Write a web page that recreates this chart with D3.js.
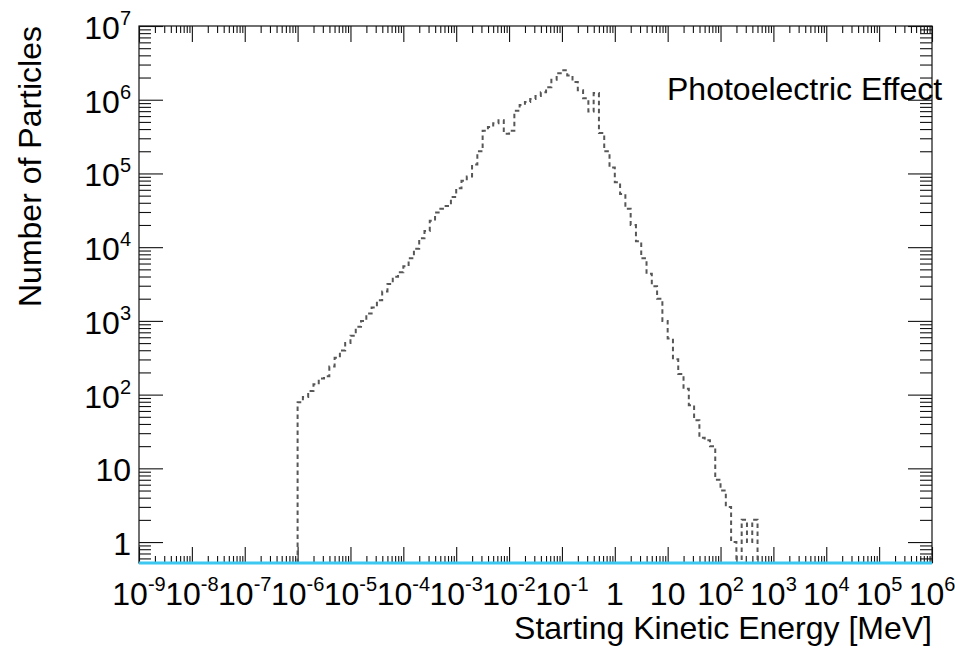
<!DOCTYPE html>
<html>
<head>
<meta charset="utf-8">
<script src="https://cdn.jsdelivr.net/npm/d3@7"></script>
<style>
  body { margin: 0; background: #fff; }
  text { font-family: "Liberation Sans", Arial, Helvetica, sans-serif; fill: #000; }
</style>
</head>
<body>
<svg id="chart" width="955" height="657"></svg>
<script>

// histogram: log10 of the lower edge of the first bin, bin width in decades
var firstEdgeExp = -6.0;
var binWidthExp = 0.1;

// counts per bin (bins from 1e-6 MeV upward)
var counts = [
    79, 93, 112, 138, 166, 178, 240, 316, 398, 501,
    631, 832, 1000, 1259, 1514, 1905, 2512, 3162, 3981, 4571,
    5495, 7079, 9550, 13180, 16600, 22900, 29510, 33110, 36310, 47860,
    63100, 79430, 91200, 131800, 199500, 380200, 426600, 478600, 524800, 346700,
    380200, 707900, 851100, 933300, 1023000, 1122000, 1259000, 1479000, 1862000, 2291000,
    2512000, 2138000, 1738000, 1349000, 1047000, 691800, 1230000, 354800, 199500, 120200,
    75860, 52480, 33110, 19950, 12020, 7079, 4365, 2951, 1995, 1000,
    575, 302, 191, 120, 72, 45, 26, 24, 20, 7,
    5, 3, 1, 0, 2, 1, 2
];

var xTickExps = [-9, -8, -7, -6, -5, -4, -3, -2, -1, 0, 1, 2, 3, 4, 5, 6];
var yTickExps = [0, 1, 2, 3, 4, 5, 6, 7];

var xTitle = "Starting Kinetic Energy [MeV]";
var yTitle = "Number of Particles";
var plotLabel = "Photoelectric Effect";

var plotLeft = 139, plotRight = 932, plotTop = 26, plotBottom = 563;
var yMin = 0.52;
var fontSize = 32;

var svg = d3.select("#chart");

var x = d3.scaleLog().domain([1e-9, 1e6]).range([plotLeft, plotRight]);
var y = d3.scaleLog().domain([yMin, 1e7]).range([plotBottom, plotTop]);

// minor ticks 2..9 inside each decade
function minorTicks(scale) {
    var d = scale.domain(), out = [];
    var lo = Math.floor(Math.log10(d[0])), hi = Math.ceil(Math.log10(d[1]));
    for (var e = lo; e < hi; e++) {
        for (var m = 2; m < 10; m++) {
            var v = m * Math.pow(10, e);
            if (v >= d[0] && v <= d[1]) out.push(v);
        }
    }
    return out;
}

var xMajor = xTickExps.map(function(e) { return Math.pow(10, e); });
var yMajor = yTickExps.map(function(e) { return Math.pow(10, e); });

function tickAxis(axis, tx, ty) {
    svg.append("g")
        .attr("class", "ticks")
        .attr("transform", "translate(" + tx + "," + ty + ")")
        .call(axis)
        .call(function(g) { g.select(".domain").remove(); })
        .selectAll("line")
        .attr("stroke", "#111")
        .attr("stroke-width", 1.1);
}

// ticks point inward on all four sides
tickAxis(d3.axisBottom(x).tickValues(xMajor).tickSize(-16).tickFormat(""), 0, plotBottom);
tickAxis(d3.axisBottom(x).tickValues(minorTicks(x)).tickSize(-7).tickFormat(""), 0, plotBottom);
tickAxis(d3.axisTop(x).tickValues(xMajor).tickSize(-16).tickFormat(""), 0, plotTop);
tickAxis(d3.axisTop(x).tickValues(minorTicks(x)).tickSize(-7).tickFormat(""), 0, plotTop);
tickAxis(d3.axisLeft(y).tickValues(yMajor).tickSize(-24).tickFormat(""), plotLeft, 0);
tickAxis(d3.axisLeft(y).tickValues(minorTicks(y)).tickSize(-12).tickFormat(""), plotLeft, 0);
tickAxis(d3.axisRight(y).tickValues(yMajor).tickSize(-24).tickFormat(""), plotRight, 0);
tickAxis(d3.axisRight(y).tickValues(minorTicks(y)).tickSize(-12).tickFormat(""), plotRight, 0);

// frame
svg.append("rect")
    .attr("x", plotLeft).attr("y", plotTop)
    .attr("width", plotRight - plotLeft).attr("height", plotBottom - plotTop)
    .attr("fill", "none")
    .attr("stroke", "#111")
    .attr("stroke-width", 1.2);

// power of ten labels
function powerLabel(sel, e) {
    if (e === 0) { sel.append("tspan").text("1"); return; }
    if (e === 1) { sel.append("tspan").text("10"); return; }
    sel.append("tspan").text("10");
    sel.append("tspan")
        .attr("dy", -14)
        .style("font-size", "20px")
        .text(String(e));
}

xTickExps.forEach(function(e) {
    var t = svg.append("text")
        .attr("x", x(Math.pow(10, e)))
        .attr("y", 605)
        .attr("text-anchor", "middle")
        .style("font-size", fontSize + "px");
    powerLabel(t, e);
});

yTickExps.forEach(function(e) {
    var t = svg.append("text")
        .attr("x", 131)
        .attr("y", y(Math.pow(10, e)) + 13)
        .attr("text-anchor", "end")
        .style("font-size", fontSize + "px");
    powerLabel(t, e);
});

// axis titles
svg.append("text")
    .attr("x", plotRight)
    .attr("y", 639)
    .attr("text-anchor", "end")
    .style("font-size", fontSize + "px")
    .text(xTitle);

svg.append("text")
    .attr("transform", "translate(41," + plotTop + ") rotate(-90)")
    .attr("text-anchor", "end")
    .style("font-size", fontSize + "px")
    .text(yTitle);

svg.append("text")
    .attr("x", 667)
    .attr("y", 100)
    .style("font-size", fontSize + "px")
    .text(plotLabel);

// histogram outline as steps
var pts = [];
var edge0 = Math.pow(10, firstEdgeExp);
pts.push([edge0, yMin]);
counts.forEach(function(c, i) {
    var lo = Math.pow(10, firstEdgeExp + i * binWidthExp);
    var hi = Math.pow(10, firstEdgeExp + (i + 1) * binWidthExp);
    var v = Math.max(c, yMin);
    pts.push([lo, v]);
    pts.push([hi, v]);
});
pts.push([pts[pts.length - 1][0], yMin]);

svg.append("clipPath").attr("id", "plotclip")
    .append("rect")
    .attr("x", plotLeft).attr("y", plotTop)
    .attr("width", plotRight - plotLeft).attr("height", plotBottom - plotTop);

var line = d3.line()
    .x(function(d) { return x(d[0]); })
    .y(function(d) { return y(d[1]); });

svg.append("path")
    .datum(pts)
    .attr("clip-path", "url(#plotclip)")
    .attr("d", line)
    .attr("fill", "none")
    .attr("stroke", "#575757")
    .attr("stroke-width", 2)
    .attr("stroke-dasharray", "4.5,3.5");

// empty second histogram sitting on the bottom of the frame
svg.append("line")
    .attr("x1", plotLeft).attr("x2", plotRight)
    .attr("y1", y(yMin)).attr("y2", y(yMin))
    .attr("stroke", "#3cc8f0")
    .attr("stroke-width", 3);

</script>
</body>
</html>
